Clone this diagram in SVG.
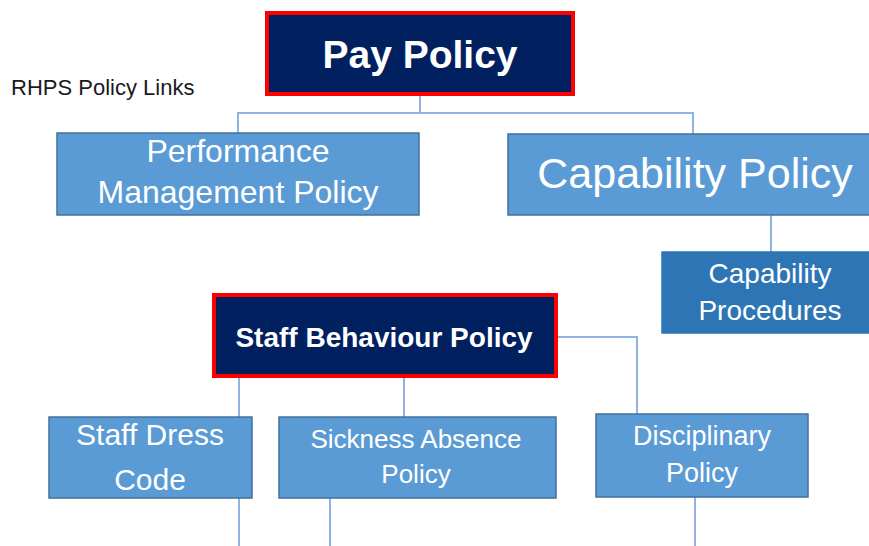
<svg xmlns="http://www.w3.org/2000/svg" width="869" height="546" viewBox="0 0 869 546">
<style>
.lt{fill:#5B9BD5;stroke:#41719C;stroke-width:1.5}
.dk{fill:#2E75B6;stroke:#2E75B6;stroke-width:1.5}
.nv{fill:#002060;stroke:#FF0000;stroke-width:4}
.t{font-family:"Liberation Sans",Arial,sans-serif;fill:#FFFFFF;text-anchor:middle}
.b{font-weight:bold}
.c{fill:none;stroke:#8FB4E3;stroke-width:2}
</style>
<rect width="869" height="546" fill="#FFFFFF"/>
<text x="11" y="95" font-family="'Liberation Sans',Arial,sans-serif" font-size="22" fill="#1a1a1a">RHPS Policy Links</text>
<g id="connectors">
<path class="c" d="M420 96 V113 M238 133 V113 H693 V134"/>
<path class="c" d="M771 215 V252"/>
<path class="c" d="M558 337 H637 V414"/>
<path class="c" d="M239 378 V417 M404 378 V417"/>
<path class="c" d="M239 498 V546 M330 498 V546 M695 497 V546"/>
</g>
<g id="pay-policy">
<rect class="nv" x="267" y="13" width="306" height="81"/>
<text class="t b" x="420" y="68" font-size="39">Pay Policy</text>
</g>
<g id="performance-management">
<rect class="lt" x="57" y="133" width="362" height="82"/>
<text class="t" x="238" y="162" font-size="32">Performance</text>
<text class="t" x="238" y="203" font-size="32">Management Policy</text>
</g>
<g id="capability-policy">
<rect class="lt" x="508" y="134" width="365" height="81"/>
<text class="t" x="695" y="188" font-size="43">Capability Policy</text>
</g>
<g id="capability-procedures">
<rect class="dk" x="662" y="252" width="210" height="81"/>
<text class="t" x="770" y="283" font-size="28">Capability</text>
<text class="t" x="770" y="320" font-size="28">Procedures</text>
</g>
<g id="staff-behaviour-policy">
<rect class="nv" x="214" y="295" width="342" height="81"/>
<text class="t b" x="384" y="347" font-size="28">Staff Behaviour Policy</text>
</g>
<g id="staff-dress-code">
<rect class="lt" x="49" y="417" width="203" height="81"/>
<text class="t" x="150" y="445" font-size="30">Staff Dress</text>
<text class="t" x="150" y="490" font-size="30">Code</text>
</g>
<g id="sickness-absence">
<rect class="lt" x="279" y="417" width="277" height="81"/>
<text class="t" x="416" y="448" font-size="26">Sickness Absence</text>
<text class="t" x="416" y="483" font-size="26">Policy</text>
</g>
<g id="disciplinary">
<rect class="lt" x="596" y="414" width="212" height="83"/>
<text class="t" x="702" y="445" font-size="27">Disciplinary</text>
<text class="t" x="702" y="482" font-size="27">Policy</text>
</g>
</svg>
